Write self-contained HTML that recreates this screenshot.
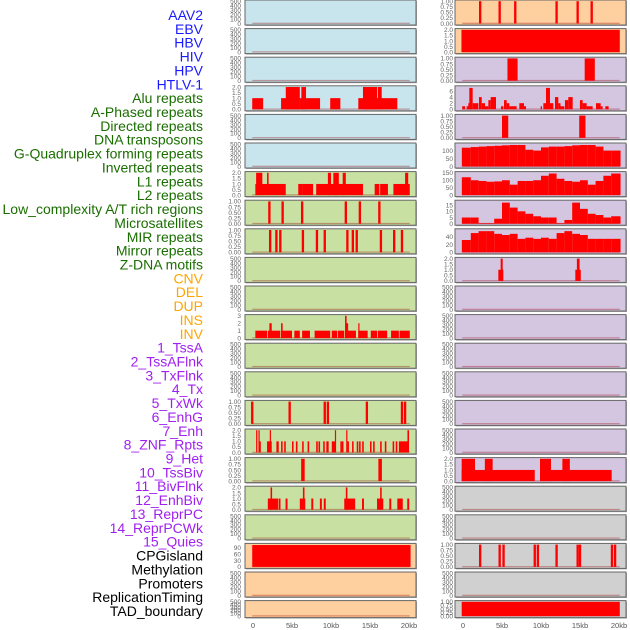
<!DOCTYPE html>
<html><head><meta charset="utf-8"><style>
html,body{margin:0;padding:0;background:#fff;}
svg{display:block;font-family:"Liberation Sans",sans-serif;}
</style></head><body>
<svg id="chart" width="630" height="630" viewBox="0 0 630 630"></svg>
<script>
// ---- track labels ----
const trackLabels = ["AAV2","EBV","HBV","HIV","HPV","HTLV-1","Alu repeats","A-Phased repeats","Directed repeats","DNA transposons","G-Quadruplex forming repeats","Inverted repeats","L1 repeats","L2 repeats","Low_complexity A/T rich regions","Microsatellites","MIR repeats","Mirror repeats","Z-DNA motifs","CNV","DEL","DUP","INS","INV","1_TssA","2_TssAFlnk","3_TxFlnk","4_Tx","5_TxWk","6_EnhG","7_Enh","8_ZNF_Rpts","9_Het","10_TssBiv","11_BivFlnk","12_EnhBiv","13_ReprPC","14_ReprPCWk","15_Quies","CPGisland","Methylation","Promoters","ReplicationTiming","TAD_boundary"];
const labelGroups = ["virus","virus","virus","virus","virus","virus","repeat","repeat","repeat","repeat","repeat","repeat","repeat","repeat","repeat","repeat","repeat","repeat","repeat","sv","sv","sv","sv","sv","chrom","chrom","chrom","chrom","chrom","chrom","chrom","chrom","chrom","chrom","chrom","chrom","chrom","chrom","chrom","other","other","other","other","other"];
const xTickLabels = ["0","5kb","10kb","15kb","20kb"];
const xTickValues = [0,5,10,15,20];

// ---- tick label sets ----
const t500 = ["0","100","200","300","400","500"];
const t1 = ["0.00","0.25","0.50","0.75","1.00"];
const t2 = ["0.0","0.5","1.0","1.5","2.0"];

// ---- segment data [startKb, endKb, value] ----
const a_r3 = [[-0.1,1.3,1],[3.6,6.0,1],[4.2,6.0,2],[6.2,6.8,2],[6.0,8.6,1],[9.9,11.2,1],[13.5,18.5,1],[14.1,15.9,2],[16.0,16.5,2]];
const a_r6 = [[0.3,4.2,1],[5.8,6.4,1],[6.4,7.7,1],[8.1,14.1,1],[15.6,16.2,1],[16.3,17.3,1],[18.0,20.1,1],[0.4,1.2,2],[1.8,2.0,2],[9.6,10.0,2],[10.3,11.0,2],[11.5,11.9,2],[19.5,19.9,2]];
const a_r7 = [2.1,3.8,6.3,11.9,13.7,16.2];
const a_r8 = [2.2,3.0,3.5,6.4,8.2,9.2,12.1,12.8,13.3,16.4,18.1,19.1];
const a_r11 = [[0.3,1.8,1],[1.9,3.5,1],[3.6,5.0,1],[5.3,6.0,1],[6.3,7.3,1],[7.9,9.9,1],[10.1,10.8,1],[10.9,11.7,1],[11.8,13.2,1],[13.5,14.7,1],[15.1,15.9,1],[16.0,17.2,1],[17.7,18.7,1],[18.8,20.1,1],[2.1,2.4,2],[3.6,3.8,2],[11.9,12.2,2],[13.5,13.6,2],[11.8,12.0,3]];
const a_r14 = [-0.1,4.7,9.2,9.6,14.6,19.1,19.5];
const a_r15_v1 = [0.9,3.7,4.1,5.1,5.6,6.4,7.1,8.2,8.5,9.1,9.5,9.6,11.3,11.5,12.2,12.8,13.4,13.7,14.1,15.1,15.5,16.4,17.0,18.0,18.4];
const a_r15_seg = [[1.8,2.4,1],[3.0,3.3,1],[10.1,10.6,1],[18.7,20.0,1],[0.4,0.55,2],[0.7,0.85,2],[2.15,2.3,2],[10.5,10.65,2],[11.95,12.1,2],[19.8,20.0,2]];
const a_r16 = [6.4,16.3];
const a_r17_v1 = [3.4,4.3,7.6,8.7,9.2,14.1,17.6,19.9];
const a_r17_seg = [[1.9,3.2,1],[6.0,6.7,1],[11.7,13.1,1],[15.9,16.7,1],[18.5,19.2,1],[2.25,2.45,2],[6.4,6.6,2],[11.9,12.1,2],[16.3,16.5,2]];
const a_r19 = [[-0.1,20.2,103]];

const b_r0 = [2.2,4.7,6.7,12.0,14.7,16.5];
const b_r1 = [[-0.2,20.1,2]];
const b_r2 = [[5.7,7.0,1],[15.6,16.9,1]];
const b_r3 = [[-0.1,0.26,1],[0.47,0.77,1],[0.68,1.1,2],[0.81,1.24,7],[1.24,1.97,2],[2.05,2.4,4],[2.4,2.82,2],[2.82,3.25,1],[3.25,3.55,3],[3.55,4.23,4],[4.87,5.17,1],[5.26,5.6,3],[5.6,5.94,2],[5.94,6.88,1],[7.22,7.82,2],[7.82,8.08,1],[9.96,10.13,1],[10.3,10.64,2],[10.64,11.15,7],[11.15,11.58,2],[11.79,12.22,4],[12.22,12.5,2],[12.5,12.99,1],[13.07,13.5,3],[13.5,14.06,4],[14.99,15.34,3],[15.34,15.85,2],[15.85,16.62,1],[17.05,17.65,2],[17.65,17.9,1],[18.25,18.67,1]];
const b_r4 = [[5.0,5.8,1],[14.9,15.7,1]];
const b_r5 = [118,122,125,128,130,133,135,135,105,100,120,125,125,128,133,135,135,125,100,100];
const b_r6 = [120,100,95,90,92,100,70,95,95,100,130,145,110,95,90,100,70,95,130,145];
const b_r7 = [5,5,0.5,0.5,4,17,13,10,8,6,5,5,0.5,3,17,12,8,7,5,6];
const b_r8 = [32,50,55,55,48,45,48,35,38,35,38,35,50,55,48,45,35,35,35,35];
const b_r9 = [[4.53,5.17,1],[4.83,5.09,2],[14.4,15.1,1],[14.6,14.95,2]];
const b_r16 = [[-0.17,9.2,1],[9.87,19.06,1],[-0.17,1.54,2],[2.8,3.8,2],[9.87,11.28,2],[12.74,13.7,2]];
const b_r19 = [2.2,4.7,5.2,9.2,9.6,12.0,14.7,15.0,19.1,19.5];
const b_r21 = [[-0.17,20.1,1]];

const BG = {blue:"#c8e4ec",green:"#c8e1a3",orange:"#ffd09f",lav:"#d4c5e1",gray:"#d0d0d0"};
const LABEL_COLORS = {virus:"#1a1aff",repeat:"#1a6e00",sv:"#ffa500",chrom:"#a020f0",other:"#000000"};

function spikes(list, v, w){ return list.map(c=>[c-w/2,c+w/2,v]); }
function profile(vals){ return vals.map((v,k)=>[k-(k===0?0.15:0), k+1+(k===19?0.2:0), v]); }

// panel configs: [col,row,bg,ymax,ticks,segments]
const panels = [
 [0,0,"blue",500,t500,[]],[0,1,"blue",500,t500,[]],[0,2,"blue",500,t500,[]],
 [0,3,"blue",2,t2,a_r3],[0,4,"blue",500,t500,[]],[0,5,"blue",500,t500,[]],
 [0,6,"green",2,t2,a_r6],[0,7,"green",1,t1,spikes(a_r7,1,0.3)],[0,8,"green",1,t1,spikes(a_r8,1,0.3)],
 [0,9,"green",500,t500,[]],[0,10,"green",500,t500,[]],
 [0,11,"green",3,["0","1","2","3"],a_r11],[0,12,"green",500,t500,[]],[0,13,"green",500,t500,[]],
 [0,14,"green",1,t1,spikes(a_r14,1,0.3)],
 [0,15,"green",2,t2,spikes(a_r15_v1,1,0.2).concat(a_r15_seg)],
 [0,16,"green",1,t1,spikes(a_r16,1,0.45)],
 [0,17,"green",2,t2,spikes(a_r17_v1,1,0.25).concat(a_r17_seg)],
 [0,18,"green",500,t500,[]],
 [0,19,"orange",105,["0","30","60","90"],a_r19],
 [0,20,"orange",500,t500,[]],[0,21,"orange",500,t500,[]],
 [1,0,"orange",1,t1,spikes(b_r0,1,0.3)],[1,1,"orange",2,t2,b_r1],
 [1,2,"lav",1,t1,b_r2],[1,3,"lav",7.3,["0","2","4","6"],b_r3],[1,4,"lav",1,t1,b_r4],
 [1,5,"lav",140,["0","50","100"],profile(b_r5)],[1,6,"lav",150,["0","50","100","150"],profile(b_r6)],
 [1,7,"lav",18,["0","5","10","15"],profile(b_r7)],[1,8,"lav",58,["0","20","40"],profile(b_r8)],
 [1,9,"lav",2,t2,b_r9],
 [1,10,"lav",500,t500,[]],[1,11,"lav",500,t500,[]],[1,12,"lav",500,t500,[]],[1,13,"lav",500,t500,[]],[1,14,"lav",500,t500,[]],[1,15,"lav",500,t500,[]],
 [1,16,"lav",2,t2,b_r16],[1,17,"gray",500,t500,[]],[1,18,"gray",500,t500,[]],
 [1,19,"gray",1,t1,spikes(b_r19,1,0.3)],[1,20,"gray",500,t500,[]],[1,21,"gray",1,t1,b_r21]
];

const NS="http://www.w3.org/2000/svg";
const svg=document.getElementById("chart");
function el(tag,attrs,parent){const e=document.createElementNS(NS,tag);for(const k in attrs)e.setAttribute(k,attrs[k]);(parent||svg).appendChild(e);return e;}

const PX=[245,455], PW=171, X0=[253,463], KB=7.8;
function xs(col,kb){return X0[col]+kb*KB;}
function rowTop(r){return r*28.6;}
function rowH(r){return r===21?17:25;}

// labels
const lg=el("g",{});


trackLabels.forEach((t,i)=>{
  const tx=el("text",{x:203,y:20+i*13.86,"text-anchor":"end","font-size":"14",fill:LABEL_COLORS[labelGroups[i]]},lg);
  tx.textContent=t;
  
  
});

panels.forEach(p=>{
  const [col,row,bg,ymax,ticks,segs]=p;
  const top=rowTop(row), h=rowH(row), left=PX[col];
  const g=el("g",{});
  
  
  el("rect",{x:left+1,y:top+1,width:PW,height:h,fill:"#aaa"},g);
  el("rect",{x:left,y:top,width:PW,height:h,fill:BG[bg],stroke:"#666","stroke-width":1},g);
  const y0=top+h-1.5, y1=top+1.2;
  const ys=v=>y0-(v/ymax)*(y0-y1);
  // baseline
  const bl=el("rect",{x:xs(col,-0.1),y:y0-0.8,width:20.2*KB,height:1.2,fill:"rgba(150,0,0,0.35)"},g);
  
  
  segs.forEach(s=>{
    const x1=xs(col,s[0]), x2=xs(col,s[1]);
    const yy=Math.max(ys(s[2]),top+0.5);
    const r=el("rect",{x:x1,y:yy,width:Math.max(x2-x1,1.2),height:y0-yy,fill:"#ff0000"},g);
    
    
  });
  // y ticks
  const tv=ticks.map(Number);
  ticks.forEach((t,i)=>{
    const lbl=el("text",{x:col===0?241:453,y:ys(tv[i])+2.3,"text-anchor":"end","font-size":"6.5",fill:"#666"},g);
    lbl.textContent=t;
    
    
  });
});

// x axis labels
[0,1].forEach(col=>{
  xTickValues.forEach((v,i)=>{
    const t=el("text",{x:xs(col,v),y:628,"text-anchor":"middle","font-size":"7.5",fill:"#555"});
    t.textContent=xTickLabels[i];
    
    
  });
});
</script>
</body></html>
